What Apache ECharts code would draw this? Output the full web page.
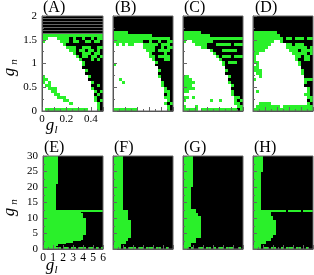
<!DOCTYPE html>
<html><head><meta charset="utf-8">
<script src="https://cdn.jsdelivr.net/npm/echarts@6/dist/echarts.min.js"></script>
<style>html,body{margin:0;padding:0;background:#fff}#c{width:314px;height:275px}</style>
</head><body><div id="c"></div>
<script>
// ---- data ----
// k = black, g = green, w = white, d = black (striped)
const panelLabels = ['(A)','(B)','(C)','(D)','(E)','(F)','(G)','(H)'];
const topXRange = [0, 0.5];
const topYRange = [0, 2];
const botXRange = [0, 6];
const botYRange = [0, 30];
const topYTicks = [0, 0.5, 1, 1.5, 2];
const topXTicks = [0, 0.2, 0.4];
const botYTicks = [0, 5, 10, 15, 20, 25, 30];
const botXTicks = [0, 1, 2, 3, 4, 5, 6];

const gridA = [
"dddddddddddddddddddd","dddddddddddddddddddd","dddddddddddddddddddd",
"dddddddddddddddddddd","dddddddddddddddddddd","dddddddddddddddddddd",
"gggggggggggggggggggg",
"ggwwwggggkgkkgkkgkgg",
"gwwwwwgggkggkkggkggk",
"wwwwwwwgkkkkkkkkkkkk",
"wwwwwwwwgggkkgggkkgg",
"wwwwwwwwwggkggkggkgk",
"wwwwwwwwwwgkkgggkggk",
"wwwwwwwwwwwgkggkggkg",
"wwwwwwwwwwwwgkkkgkgk",
"wwwwwwwwwwwwwgkkkkkk",
"wwwwwwwwwwwwwgkkkkkk",
"wwwwwwwwwwwwwkkkkkkk",
"wwwwwwwwwwwwwwgkkkkk",
"wwwwwwwwwwwwwwkkkkkk",
"gwwwwwwwwwwwwwwgkkkk",
"ggwwwwwwwwwwwwwkkkkk",
"gwgwwwwwwwwwwwwwgkkk",
"wggwwwwwwwwwwwwwkkgk",
"wwgggwwwwwwwwwwwgkkk",
"wwwggwwwwwwwwwwwwgkg",
"wwwwggwwwwwwwwwwwkgk",
"wwwwwgggwwwwwwwwwgkk",
"wwwwwwwggwwwwwwwwgkg",
"wwwwwwwwwgwwwwwwwwgk",
"wwwwwwwwwwwwwwwwwwgk",
"wggggggggggggggwwwgk"];

const gridB = [
"kkkkkkkkkkkkkkkkkkkk","kkkkkkkkkkkkkkkkkkkk","kkkkkkkkkkkkkkkkkkkk",
"kkkkkkkkkkkkkkkkkkkk","kkkkkkkkkkkkkkkkkkkk",
"gggggkkkkkkkkkkkkkkk",
"gggggggggggggkkkkkkk",
"gggggggggggggggggggk",
"ggggggggggkkgkkgkkgg",
"wgwgwggwwwgggggkgggk",
"wwwwwwwwwwggggkkgkgg",
"wwwwwwwwwwwgggkggggk",
"wwwwwwwwwwwwgkkkkgkk",
"wwwwwwwwwwwwggkggggk",
"wwwwwwwwwwwwwgkkkggk",
"wwwwwwwwwwwwwwgkkkkk",
"gwwwwwwwwwwwwwkkkkkk",
"wwwwwwwwwwwwwwwkkkkk",
"wwwwwwwwwwwwwwwgkkkk",
"wwwwwwwwwwwwwwwkkkkk",
"wwwwwwwwwwwwwwwgkkkk",
"wwgwwwwwwwwwwwwwkkkk",
"wwwgwwwwwwwwwwwwgkkk",
"wwwwwwwwwwwwwwwwgkkk",
"wwwwwwwwwwwwwwwwwgkk",
"wwwwwwwwwwwwwwwwwggk",
"wwwwwwwwwwwwwwwwwkgk",
"wwwwwwwwwwwwwwwwwggk",
"wwwwwwwwwwwwwwwwwwgk",
"wwwwwwwwwwwwwwwwwgkg",
"wwwwwwwwwwwwwwwwwwgk",
"ggggggggwwwwwwwwwwgk"];

const gridC = [
"kkkkkkkkkkkkkkkkkkkk","kkkkkkkkkkkkkkkkkkkk","kkkkkkkkkkkkkkkkkkkk",
"kkkkkkkkkkkkkkkkkkkk","kkkkkkkkkkkkkkkkkkkk",
"ggggggkkkkkkkkkkkkkk",
"gggggggggkkkkkkkkkkk",
"gggggggggggggggggggg",
"gwwgggggggkkkkkkkkkk",
"wwwwggggkkkgggggkggg",
"wwwwwwggkkkkkkkkkkkk",
"wwwwwwwwwgkkkgggggkk",
"wwwwwwwwwwgkkkkkkkkk",
"wwwwwwwwwwwgkgggkggg",
"wwwwwwwwwwwwgkkkkkkk",
"wwwwwwwwwwwwwgkgggkk",
"wwwwwwwwwwwwwgkkkkkk",
"wwwwwwwwwwwwwwkkkkkk",
"wwwwwwwwwwwwwwgkkkkk",
"wwwwwwwwwwwwwwkkkkkk",
"ggwwwwwwwwwwwwwgkkkk",
"gggwwwwwwwwwwwwkkkkk",
"ggggwwwwwwwwwwwgkkkk",
"gggwwwwwwwwwwwwwgkkk",
"ggggwwwwwwwwwwwwkkkk",
"ggwwwwwwwwwwwwwwgkkk",
"wwwwwwwwwwwwwwwwgkkk",
"ggwgwwwwwwwwwwwwwggk",
"gwwwwwwwwgwwgwwwwgkg",
"wwwwwwwwwwwwwwwwwggk",
"gwwwgwwwwwwwwwwwwwgg",
"gggggwggggggggggggkg"];

const gridD = [
"kkkkkkkkkkkkkkkkkkkk","kkkkkkkkkkkkkkkkkkkk","kkkkkkkkkkkkkkkkkkkk",
"kkkkkkkkkkkkkkkkkkkk","kkkkkkkkkkkkkkkkkkkk",
"ggggggggkkkkkkkkkkkk",
"gggggggggkkkkkkkkkkk",
"ggggggggggkggkgggkgg",
"gggggggwwgkkkkkkkkkk",
"ggggggwwwwwggkgggkkk",
"gggggwwwwwwgggggggkg",
"ggggwwwwwwwwgggkgggg",
"ggwwwwwwwwwwwgggggkg",
"gwwwwwwwwwwwwwggkggk",
"gwwwwwwwwwwwwwgkkggk",
"ggwwwwwwwwwwwwwgkkkk",
"wgwwwwwwwwwwwwwgkkkk",
"ggwwwwwwwwwwwwwwkkkk",
"gggwwwwwwwwwwwwwgkkk",
"wggwwwwwwwwwwwwwgkkk",
"wwgwwwwwwwwwwwwwwkkk",
"gwwwwwwwwwwwwwwwwggg",
"wwwwwwwwwwwwwwwwwgkk",
"wwwwwwwwwwwwwwwwwkkk",
"wwwwwwwwwwwwwwwwwwgk",
"wgwwwwwwwwwwwwwwwwgk",
"wwwwwwwwwwwwwwwwwggk",
"wwwwwwwwwwwwwwwwwwgg",
"wwwwwwwwwwwwwwwwwwkg",
"wwggggwwwwwwwwwwwwgk",
"wggggggggwgggggggggg",
"gggggggggggggggggggg"];

// bottom panels: run-length rows (24 columns x 60 rows), top row first
function rep(s, n) { return Array(n).fill(s); }
const gridE = [].concat(
  rep("g6k18", 18), rep("g5k19", 17), ["g24"], ["g15k9"], rep("g16k8", 3),
  rep("g17k7", 11), rep("g16k8", 3), ["g15k9"], ["g12k12"], ["g9k15"], ["g6k18"], ["g5k19"],
  ["g7k1g2k1g2k1g3k1g2k1g1k1g1"]);
const gridF = [].concat(
  rep("g4k20", 35), rep("g6k18", 2), rep("g6k18", 4), rep("g7k17", 12), rep("g6k18", 2),
  rep("g5k19", 2), rep("g3k21", 2), ["g3k1g1k1g3k1g2k1g3k1g2k2g1k2"]);
const gridG = [].concat(
  rep("g4k20", 20), rep("g3k21", 14), rep("g5k19", 3), rep("g6k18", 2), rep("g7k17", 14),
  rep("g5k19", 3), rep("g3k21", 3), ["g2k1g1k2g2k1g2k1g1k1g2k1g3k2g1k1"]);
const gridH = [].concat(
  rep("g4k20", 10), rep("g3k21", 25), ["g13k1g5k1g4"], rep("g7k17", 3), rep("g8k16", 2),
  rep("g9k15", 10), rep("g8k16", 2), rep("g7k17", 2), rep("g5k19", 2), rep("g3k21", 2),
  ["g3k1g2k1g2k2g1k1g3k1g2k2g1k2"]);

// ---- build ----
function expandRow(s) {
  if (/\d/.test(s)) {
    let out = '';
    s.replace(/([kgwd])(\d+)/g, (m, ch, n) => { out += ch.repeat(+n); return m; });
    return out;
  }
  return s;
}
function cellsFrom(rows, dx, dy, ymax) {
  const data = [];
  rows.forEach((row, r) => {
    const line = expandRow(row);
    for (let c = 0; c < line.length; c++) {
      const ch = line[c];
      if (ch === 'w') continue;
      const st = ch === 'g' ? 1 : (ch === 'd' ? 2 : 0);
      data.push([(c + 0.5) * dx, ymax - (r + 0.5) * dy, st]);
    }
  });
  return data;
}

const GREEN = '#2af02a';
const SERIF = '"Liberation Serif","DejaVu Serif",serif';
const panels = [
  {rows: gridA, top: true}, {rows: gridB, top: true}, {rows: gridC, top: true}, {rows: gridD, top: true},
  {rows: gridE, top: false}, {rows: gridF, top: false}, {rows: gridG, top: false}, {rows: gridH, top: false}
];
const lefts = [42, 113, 183, 253];

const grid = [], xAxis = [], yAxis = [], series = [], title = [];
panels.forEach((p, i) => {
  const col = i % 4;
  const isTop = p.top;
  const xr = isTop ? topXRange : botXRange;
  const yr = isTop ? topYRange : botYRange;
  const ncols = expandRow(p.rows[0]).length;
  const dx = (xr[1] - xr[0]) / ncols;
  const dy = (yr[1] - yr[0]) / p.rows.length;
  grid.push({
    left: isTop ? lefts[col] : (col === 0 ? 43 : lefts[col]),
    top: isTop ? 16 : 156,
    width: isTop ? (col === 0 ? 61 : 60) : 60,
    height: isTop ? 95 : 93,
    show: true, borderColor: '#666', borderWidth: 1, backgroundColor: 'transparent', z: 5
  });
  const showX = col === 0, showY = col === 0;
  const xTicks = isTop ? topXTicks : botXTicks;
  xAxis.push({
    type: 'value', gridIndex: i, min: xr[0], max: xr[1],
    interval: isTop ? 0.1 : 1, z: 6,
    axisLine: {show: true, lineStyle: {color: '#555', width: 1}},
    axisTick: {show: true, inside: true, length: 4, lineStyle: {color: '#666'}},
    minorTick: {show: true, splitNumber: 2, length: 2, lineStyle: {color: '#666'}},
    splitLine: {show: false},
    axisLabel: {
      show: showX, margin: 3, fontFamily: SERIF, fontSize: isTop ? 11 : 11.5, color: '#000',
      showMaxLabel: !isTop,
      formatter: v => {
        const r = Math.round(v * 10) / 10;
        return xTicks.some(t => Math.abs(t - r) < 1e-6) ? String(r) : '';
      }
    }
  });
  yAxis.push({
    type: 'value', gridIndex: i, min: yr[0], max: yr[1],
    interval: isTop ? 0.5 : 5, z: 6,
    axisLine: {show: true, lineStyle: {color: '#555', width: 1}},
    axisTick: {show: true, inside: true, length: 4, lineStyle: {color: '#666'}},
    minorTick: {show: true, splitNumber: 2, length: 2, lineStyle: {color: '#666'}},
    splitLine: {show: false},
    axisLabel: {show: showY, margin: 5, fontFamily: SERIF, fontSize: 11, color: '#000'}
  });
  series.push({
    type: 'custom', xAxisIndex: i, yAxisIndex: i, clip: true, silent: true,
    data: cellsFrom(p.rows, dx, dy, yr[1]),
    renderItem: (params, api) => {
      const x = api.value(0), y = api.value(1), st = api.value(2);
      const p0 = api.coord([x - dx / 2, y + dy / 2]);
      const p1 = api.coord([x + dx / 2, y - dy / 2]);
      const x0 = Math.round(p0[0]), x1 = Math.round(p1[0]);
      const y0 = Math.round(p0[1]), y1 = Math.round(p1[1]);
      const h = y1 - y0;
      if (st === 2) {
        return {type: 'group', children: [
          {type: 'rect', shape: {x: x0, y: y0, width: x1 - x0, height: h}, style: {fill: '#000'}},
          {type: 'rect', shape: {x: x0, y: y1 - 1, width: x1 - x0, height: 1}, style: {fill: '#666'}}
        ]};
      }
      return {
        type: 'rect',
        shape: {x: x0, y: y0, width: x1 - x0, height: h},
        style: {fill: st === 1 ? GREEN : '#000'}
      };
    }
  });
  title.push({
    text: panelLabels[i], padding: 0,
    left: isTop ? [43, 115, 184, 255][col] : [44, 114, 184, 254][col],
    top: isTop ? 0 : 140,
    textStyle: {fontFamily: SERIF, fontSize: 16, fontWeight: 'normal', color: '#000'}
  });
});

function t(x, y, s, size, rot) {
  return {type: 'text', x: x, y: y, rotation: rot || 0, z: 10,
    style: {text: s, font: 'italic ' + size + 'px ' + SERIF, fill: '#000', align: 'center', verticalAlign: 'middle'}};
}
const graphic = [
  t(10, 72, 'g', 17, Math.PI / 2), t(14, 62, 'n', 11, Math.PI / 2),
  t(50, 126, 'g', 17, 0), t(56, 130, 'l', 11, 0),
  t(10, 212, 'g', 17, Math.PI / 2), t(14, 202, 'n', 11, Math.PI / 2),
  t(50, 266, 'g', 17, 0), t(56, 270, 'l', 11, 0)
];

const chart = echarts.init(document.getElementById('c'), null, {renderer: 'canvas'});
chart.setOption({animation: false, backgroundColor: '#fff', title, grid, xAxis, yAxis, series, graphic});
</script></body></html>
